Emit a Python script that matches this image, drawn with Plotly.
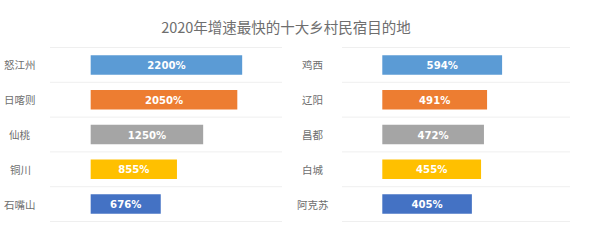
import plotly.graph_objects as go

# ---- data ----
title_text = "2020年增速最快的十大乡村民宿目的地"
left_cities = ["怒江州", "日喀则", "仙桃", "铜川", "石嘴山"]
left_values = [2200, 2050, 1250, 855, 676]
right_cities = ["鸡西", "辽阳", "昌都", "白城", "阿克苏"]
right_values = [594, 491, 472, 455, 405]
bar_colors = ["#5B9BD5", "#ED7D31", "#A5A5A5", "#FFC000", "#4472C4"]

# log-scale bar bases / axis ranges (layout)
left_base = 10 ** 2.389
right_base = 10 ** 2.1145
left_range = [2.133, 3.593]
right_range = [1.8927, 3.1475]

W, H = 600, 249
ydom = [1 - 222 / H, 1 - 47 / H]

fig = go.Figure()

bar_font = dict(family="DejaVu Sans Condensed", size=12.5, color="white")

fig.add_trace(go.Bar(
    y=left_cities, x=[v - left_base for v in left_values], base=left_base,
    orientation="h", marker=dict(color=bar_colors, line=dict(width=0)),
    text=[f"<b>{v}%</b>" for v in left_values], textposition="inside",
    insidetextanchor="middle", textangle=0, textfont=bar_font,
    width=0.56, xaxis="x", yaxis="y", hoverinfo="skip", cliponaxis=False,
))
fig.add_trace(go.Bar(
    y=right_cities, x=[v - right_base for v in right_values], base=right_base,
    orientation="h", marker=dict(color=bar_colors, line=dict(width=0)),
    text=[f"<b>{v}%</b>" for v in right_values], textposition="inside",
    insidetextanchor="middle", textangle=0, textfont=bar_font,
    width=0.56, xaxis="x2", yaxis="y2", hoverinfo="skip", cliponaxis=False,
))

axis_common = dict(showgrid=False, zeroline=False, showticklabels=False, showline=False, ticks="")
fig.update_layout(
    width=W, height=H, margin=dict(l=0, r=0, t=0, b=0),
    paper_bgcolor="white", plot_bgcolor="white", showlegend=False,
    uniformtext=dict(mode=False),
    xaxis=dict(type="log", range=left_range, domain=[50 / W, 282 / W], anchor="y", **axis_common),
    yaxis=dict(type="category", categoryarray=left_cities, autorange="reversed",
               domain=ydom, anchor="x", **axis_common),
    xaxis2=dict(type="log", range=right_range, domain=[342 / W, 570 / W], anchor="y2", **axis_common),
    yaxis2=dict(type="category", categoryarray=right_cities, autorange="reversed",
                domain=ydom, anchor="x2", **axis_common),
    title=dict(text=title_text, x=286 / W, xanchor="center", y=1 - 28 / H, yanchor="middle",
               font=dict(family="Noto Sans CJK SC", size=14.5, color="#6E6E6E")),
)

shapes = []
for xr, yr in (("x domain", "y"), ("x2 domain", "y2")):
    for i in range(6):
        shapes.append(dict(type="line", xref=xr, yref=yr, x0=0, x1=1, y0=i - 0.5, y1=i - 0.5,
                           line=dict(color="#EFEFEF", width=1), layer="below"))
fig.update_layout(shapes=shapes)

label_font = dict(family="Noto Sans CJK SC", size=10.5, color="#6E6E6E")
for c in left_cities:
    fig.add_annotation(x=20 / W, xref="paper", y=c, yref="y", text=c, showarrow=False,
                       xanchor="center", yanchor="middle", font=label_font)
for c in right_cities:
    fig.add_annotation(x=313 / W, xref="paper", y=c, yref="y2", text=c, showarrow=False,
                       xanchor="center", yanchor="middle", font=label_font)

fig.write_html("out.html")
